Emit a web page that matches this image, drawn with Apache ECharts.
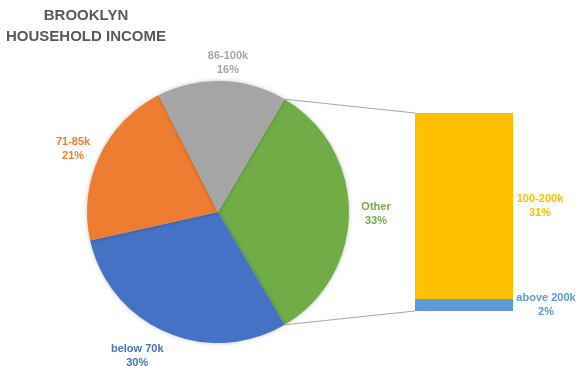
<!DOCTYPE html>
<html><head><meta charset="utf-8">
<script src="https://cdn.jsdelivr.net/npm/echarts@6/dist/echarts.min.js"></script>
<style>html,body{margin:0;padding:0;background:#fff}#c{width:576px;height:366px}</style>
</head><body><div id="c"></div>
<script>
// ---- data ----
const titleLines = ['BROOKLYN', 'HOUSEHOLD INCOME'];
const pieCategories = ['Other', 'below 70k', '71-85k', '86-100k'];
const pieValues = [33, 30, 21, 16];
const barCategories = ['above 200k', '100-200k'];   // bottom to top
const barValues = [2, 31];

// ---- styles ----
const pieColors = ['#70AD47', '#4472C4', '#ED7D31', '#A5A5A5'];
const barColors = ['#5B9BD5', '#FFC000'];
const pieLabelOffsets = [[0, 2], [-18, -1], [-2, 4], [5, 9]];
const barLabelDistances = [33, 27];
const FONT = 'Liberation Sans, Arial, sans-serif';
const startAngle = 90 - 30.6;

const pieTotal = pieValues.reduce((a, b) => a + b, 0);
const barTotal = barValues.reduce((a, b) => a + b, 0);

const chart = echarts.init(document.getElementById('c'), null, {renderer: 'canvas'});

const pieData = pieCategories.map((n, i) => ({
  name: n, value: pieValues[i],
  itemStyle: {color: pieColors[i]}
}));
const pieLabelData = pieCategories.map((n, i) => ({
  name: n, value: pieValues[i],
  label: {color: pieColors[i], offset: pieLabelOffsets[i]}
}));

const option = {
  animation: false,
  title: {
    text: titleLines.join('\n'),
    left: 86, top: 5, padding: 0, textAlign: 'center',
    textStyle: {fontFamily: FONT, fontWeight: 'bold', fontSize: 15, lineHeight: 21, color: '#595959'}
  },
  grid: {left: 415, top: 113, width: 98, height: 198},
  xAxis: {type: 'category', data: ['Other'], show: false},
  yAxis: {type: 'value', min: 0, max: barTotal, show: false},
  series: [
    {
      type: 'pie', center: [218, 212], radius: [0, 131],
      startAngle: startAngle, clockwise: true, silent: true,
      label: {show: false}, labelLine: {show: false},
      itemStyle: {shadowBlur: 4, shadowColor: 'rgba(0,0,0,0.25)'},
      emphasis: {disabled: true},
      data: pieData
    },
    {
      type: 'pie', center: [218, 212], radius: [150, 160],
      startAngle: startAngle, clockwise: true, silent: true,
      itemStyle: {color: 'rgba(0,0,0,0)'},
      label: {show: true, position: 'inside', formatter: '{b}\n{c}%',
        fontFamily: FONT, fontWeight: 'bold', fontSize: 11, lineHeight: 14},
      labelLine: {show: false},
      emphasis: {disabled: true},
      data: pieLabelData
    }
  ].concat(barCategories.map((n, i) => ({
    type: 'bar', name: n, stack: 'o', barWidth: '100%', silent: true,
    itemStyle: {color: barColors[i]},
    label: {show: true, position: 'right', distance: barLabelDistances[i], align: 'center',
      formatter: n + '\n{c}%', color: barColors[i],
      fontFamily: FONT, fontWeight: 'bold', fontSize: 11, lineHeight: 14},
    data: [barValues[i]]
  })))
};
chart.setOption(option);

// connector lines from the "Other" slice edges to the bar corners
const pieLayout = chart.getModel().getSeriesByIndex(0).getData().getItemLayout(0);
const topBar = chart.getModel().getSeriesByIndex(1 + barCategories.length).getData().getItemLayout(0);
const botBar = chart.getModel().getSeriesByIndex(2).getData().getItemLayout(0);
const tY = Math.min(topBar.y, topBar.y + topBar.height);
const bY = Math.max(botBar.y, botBar.y + botBar.height);
const bX = Math.min(topBar.x, topBar.x + topBar.width);
const a1 = pieLayout.startAngle, a2 = pieLayout.endAngle;
const p1 = [pieLayout.cx + pieLayout.r * Math.cos(a1), pieLayout.cy + pieLayout.r * Math.sin(a1)];
const p2 = [pieLayout.cx + pieLayout.r * Math.cos(a2), pieLayout.cy + pieLayout.r * Math.sin(a2)];
const pts = [p1, p2].sort((a, b) => a[1] - b[1]);
chart.setOption({
  graphic: [
    {type: 'line', silent: true, z: 100, shape: {x1: pts[0][0], y1: pts[0][1], x2: bX, y2: tY}, style: {stroke: '#a6a6a6', lineWidth: 1}},
    {type: 'line', silent: true, z: 100, shape: {x1: pts[1][0], y1: pts[1][1], x2: bX, y2: bY}, style: {stroke: '#a6a6a6', lineWidth: 1}}
  ]
});
</script>
</body></html>
